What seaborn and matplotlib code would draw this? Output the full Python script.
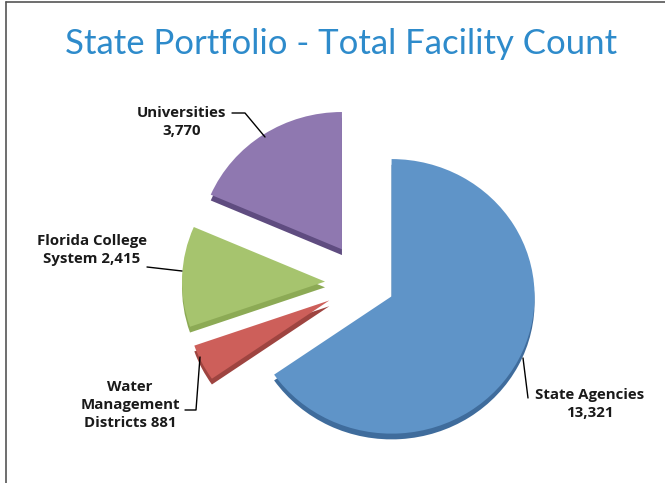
import matplotlib
matplotlib.use("Agg")
import matplotlib.pyplot as plt
import seaborn as sns

# data
categories = ["State Agencies", "Water Management Districts", "Florida College System", "Universities"]
counts = [13321, 881, 2415, 3770]
label_texts = ["State Agencies\n13,321", "Water\nManagement\nDistricts 881",
               "Florida College\nSystem 2,415", "Universities\n3,770"]

face_colors = ["#5F94C8", "#CD5F5A", "#A6C46E", "#8F78B0"]
side_colors = ["#3F6C9C", "#9E4440", "#8CAA55", "#5F4C80"]

sns.set_style("white")
plt.rcParams['font.family'] = ['Open Sans', 'DejaVu Sans']

W, H = 665, 483
tilt = 0.96  # vertical squash of the tilted pie

fig = plt.figure(figsize=(W / 100, H / 100), dpi=100)
ax = fig.add_axes([0, 0, 1, 1])


def px(x, y):
    # pixel position (from top-left) -> data coords
    return x, (H - y) / tilt


cx, cy = px(365, 283)
r = 143
# explode offsets (pie uses absolute offsets, here in pixels)
explode = [30, 40, 40, 42]

# side / depth of the 3d pie
ax.pie(counts, colors=side_colors, explode=explode, startangle=90, counterclock=False,
       center=(cx, cy - 6), radius=r, frame=True, wedgeprops=dict(linewidth=0))
# top face
ax.pie(counts, colors=face_colors, explode=explode, startangle=90, counterclock=False,
       center=(cx, cy), radius=r, frame=True, wedgeprops=dict(linewidth=0))
ax.set_aspect("auto")
ax.set_xlim(0, W)
ax.set_ylim(0, H / tilt)
ax.axis("off")


def leader(xs, ys):
    pts = [px(x, y) for x, y in zip(xs, ys)]
    ax.plot([p[0] for p in pts], [p[1] for p in pts], color="black", lw=1)


# labels with leader lines
lab = dict(fontsize=10.8, fontweight="bold", color="#1a1a1a", ha="center", va="center",
           linespacing=1.4)
ax.text(*px(182, 122), label_texts[3], **lab)
leader([232, 245, 265], [113, 113, 137])

ax.text(*px(92, 250), label_texts[2], **lab)
leader([147, 182], [267, 271])

ax.text(*px(130, 405), label_texts[1], **lab)
leader([185, 196, 200], [410, 410, 357])

ax.text(*px(590, 404), label_texts[0], **lab)
leader([523, 528], [358, 398])

# title
fig.text(0.513, 1 - 44 / H, "State Portfolio - Total Facility Count", fontsize=25,
         color="#2E8BCB", ha="center", va="center", family=["Lato", "DejaVu Sans"])

# slide frame
fig.add_artist(plt.Line2D([6 / W, 6 / W], [0, 1 - 2 / H], color="#555555", lw=1.2))
fig.add_artist(plt.Line2D([6 / W, 1], [1 - 2 / H, 1 - 2 / H], color="#555555", lw=1.2))

fig.savefig("out.png", dpi=100)
